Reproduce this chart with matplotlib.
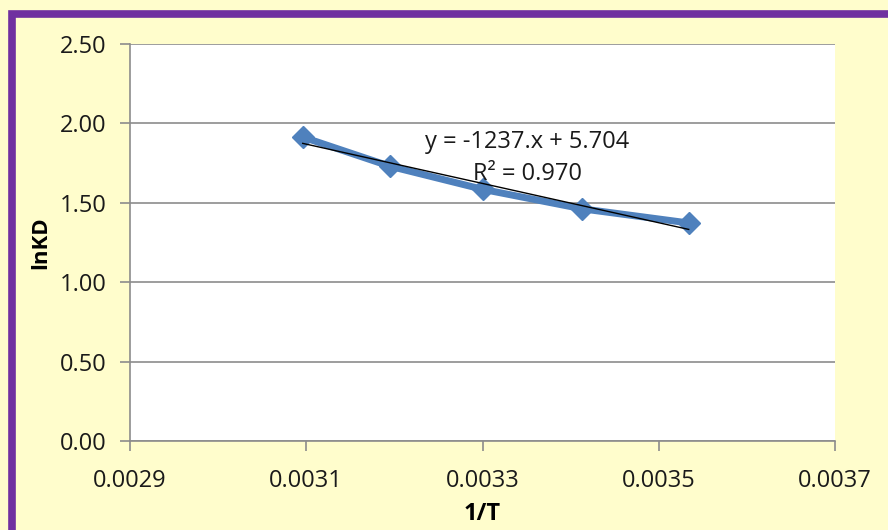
import matplotlib.pyplot as plt
import matplotlib.patches as patches
import numpy as np

# data (1/T vs lnKD)
inv_T = [0.003096, 0.003195, 0.003300, 0.003413, 0.003534]
lnKD = [1.914, 1.730, 1.585, 1.462, 1.373]

# trendline as printed on the chart
slope = -1237.0
intercept = 5.704
r2 = 0.970

x_ticks = [0.0029, 0.0031, 0.0033, 0.0035, 0.0037]
y_ticks = [0.0, 0.5, 1.0, 1.5, 2.0, 2.5]


def main():
    plt.rcParams['font.family'] = ['Open Sans', 'DejaVu Sans']

    fig = plt.figure(figsize=(8.88, 5.30), dpi=100)
    fig.patch.set_facecolor('#FFFDCC')

    # purple frame (clipped at right and bottom like the screenshot)
    frame = patches.Rectangle((12 / 888, -0.1), 1.2, 1 - 13.5 / 530 + 0.1,
                              transform=fig.transFigure, fill=False,
                              edgecolor='#7030A0', linewidth=5.5)
    fig.patches.append(frame)

    ax = fig.add_axes([130 / 888, 1 - 441 / 530, 705 / 888, 397 / 530])
    ax.set_facecolor('white')

    ax.plot(inv_T, lnKD, color='#4F81BD', linewidth=5, marker='D',
            markersize=11, zorder=3)

    xl = np.array([inv_T[0], inv_T[-1]])
    ax.plot(xl, slope * xl + intercept, color='black', linewidth=1, zorder=4)

    ax.text(0.003351, 1.88, f'y = {slope:.0f}.x + {intercept}', ha='center',
            va='center', fontsize=17, color='#1a1a1a', zorder=5)
    ax.text(0.003351, 1.68, f'R² = {r2:.3f}', ha='center', va='center',
            fontsize=17, color='#1a1a1a', zorder=5)

    ax.set_xlim(0.0029, 0.0037)
    ax.set_ylim(0, 2.5)
    ax.set_xticks(x_ticks)
    ax.set_xticklabels([f'{v:.4f}' for v in x_ticks])
    ax.set_yticks(y_ticks)
    ax.set_yticklabels([f'{v:.2f}' for v in y_ticks])

    ax.grid(axis='y', color='#8c8c8c', linewidth=1.2)
    ax.set_axisbelow(True)
    for s in ['top', 'right']:
        ax.spines[s].set_visible(False)
    for s in ['left', 'bottom']:
        ax.spines[s].set_color('#8c8c8c')
        ax.spines[s].set_linewidth(1.2)

    ax.tick_params(axis='both', direction='out', length=7, width=1.2,
                   color='#8c8c8c', labelsize=17, labelcolor='#1a1a1a')
    ax.tick_params(axis='x', pad=13)
    ax.tick_params(axis='y', pad=10)

    ax.set_xlabel('1/T', fontsize=17, fontweight='bold', labelpad=7)
    ax.set_ylabel('lnKD', fontsize=16, fontweight='bold', labelpad=6)

    plt.savefig('out.png', dpi=100, facecolor=fig.get_facecolor())


if __name__ == '__main__':
    main()
